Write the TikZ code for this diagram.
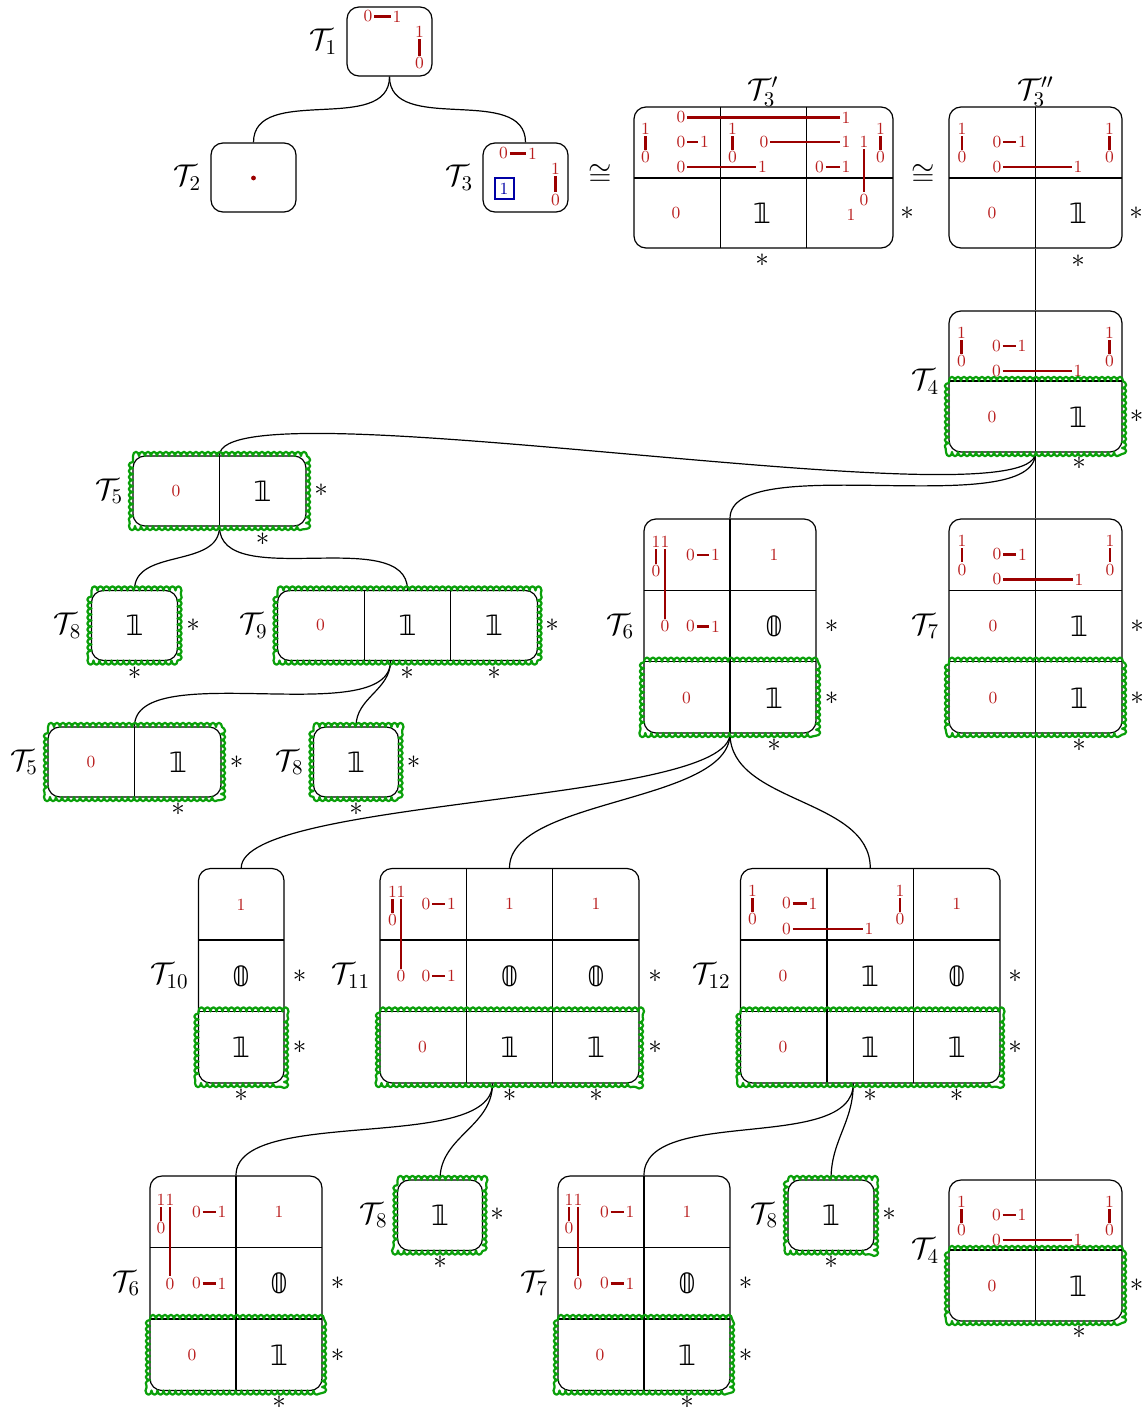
\IfFileExists{fix-cm.sty}{\RequirePackage{fix-cm}}{}
\documentclass[tikz,border=0pt]{standalone}
\usepackage{fontspec}
\newif\ifhavebbold
\IfFileExists{bbold.sty}{\havebboldtrue}{\havebboldfalse}
\ifhavebbold\usepackage{bbold}\fi
\newfontfamily\dsymfont{DejaVu Sans}
\newcommand\dbl[1]{\ifhavebbold$\mathbb{#1}$\else{\dsymfont\ifnum#1=0 \char"1D7D8\else\char"1D7D9\fi}\fi}
\usetikzlibrary{fit,calc,decorations.pathmorphing}
\definecolor{rdtxt}{RGB}{185,30,30}
\definecolor{rdline}{RGB}{155,0,0}
\definecolor{grn}{RGB}{10,160,10}
\definecolor{blu}{RGB}{0,0,165}
\newcounter{nn}
\newcommand\rdN[3]{\stepcounter{nn}\node[rd] (r\arabic{nn}) at (#1,#2) {#3};}
\newcommand\rdH[3]{\stepcounter{nn}\node[rd] (r\arabic{nn}a) at (#1,#3) {0};\node[rd] (r\arabic{nn}b) at (#2,#3) {1};\draw[redge] (r\arabic{nn}a) -- (r\arabic{nn}b);}
\newcommand\rdV[3]{\stepcounter{nn}\node[rd] (r\arabic{nn}a) at (#1,#2) {1};\node[rd] (r\arabic{nn}b) at (#1,#3) {0};\draw[redge] (r\arabic{nn}a) -- (r\arabic{nn}b);}
\newcommand\bbN[3]{\stepcounter{nn}\node[bb] (b\arabic{nn}) at (#1,#2) {\dbl{#3}};}
\newcommand\astN[2]{\stepcounter{nn}\node[ast] (s\arabic{nn}) at (#1,#2) {$*$};}
\newcommand\grnB[4]{\draw[gbump] (#1,#2) -- (#3,#2) -- (#3,#4) -- (#1,#4) -- cycle;}
\tikzset{
 box/.style={draw, line width=0.6pt, rounded corners=6pt, inner sep=0pt},
 cell/.style={line width=0.6pt},
 conn/.style={line width=0.6pt},
 rd/.style={text=rdtxt, font=\fontsize{8.5}{9}\selectfont, inner sep=0.7pt},
 redge/.style={draw=rdline, line width=1.1pt},
 bb/.style={font=\fontsize{14}{15}\selectfont, inner sep=0pt},
 ast/.style={font=\fontsize{13.5}{14}\selectfont, inner sep=0pt},
 tlab/.style={font=\fontsize{15}{16}\selectfont, inner sep=0pt, anchor=east, xshift=-4.5pt},
 tlabtop/.style={font=\fontsize{15}{16}\selectfont, inner sep=0pt, anchor=base},
 gbump/.style={draw=grn, line width=1.1pt, line join=round, decorate, decoration={bumps, segment length=6pt, amplitude=2.1pt}},
}
\begin{document}
\begin{tikzpicture}[x=0.5pt,y=-0.5pt]
\useasboundingbox (0,0) rectangle (1146,1408);
% boxes
\node[box, fit={(347,7) (432,76)}] (t1) {};
\node[box, fit={(211,143) (296,212)}] (t2) {};
\node[box, fit={(483,143) (568,212)}] (t3) {};
\node[box, fit={(634,107) (893,248)}] (t3p) {};
\node[box, fit={(949,107) (1122,248)}] (t3pp) {};
\node[box, fit={(949,311) (1122,452)}] (t4) {};
\node[box, fit={(133,456) (306,526)}] (t5) {};
\node[box, fit={(91.5,590.5) (177.5,660.5)}] (t8) {};
\node[box, fit={(277.5,590.5) (537.5,660.5)}] (t9) {};
\node[box, fit={(48,727) (221,797)}] (t5b) {};
\node[box, fit={(313.5,727) (398.5,797)}] (t8b) {};
\node[box, fit={(644,519) (816,733)}] (t6) {};
\node[box, fit={(949,519) (1122,733)}] (t7) {};
\node[box, fit={(198.5,868.5) (284,1083)}] (t10) {};
\node[box, fit={(380,868.5) (639,1083)}] (t11) {};
\node[box, fit={(740.5,868.5) (1000,1083)}] (t12) {};
\node[box, fit={(150,1176) (322,1390.5)}] (t6c) {};
\node[box, fit={(397.5,1180) (482.5,1250.5)}] (t8c) {};
\node[box, fit={(558,1176) (730,1390.5)}] (t7c) {};
\node[box, fit={(788,1180) (874,1250.5)}] (t8d) {};
\node[box, fit={(949,1180) (1122,1321)}] (t4c) {};
% labels
\node[tlab] (lt1) at (t1.west) {$\mathcal{T}_1$};
\node[tlab] (lt2) at (t2.west) {$\mathcal{T}_2$};
\node[tlab] (lt3) at (t3.west) {$\mathcal{T}_3$};
\node[tlabtop] (lt3p) at (763,99) {$\mathcal{T}_3'$};
\node[tlabtop] (lt3pp) at (1035.5,99) {$\mathcal{T}_3''$};
\node[tlab] (lt4) at (t4.west) {$\mathcal{T}_4$};
\node[tlab] (lt5) at (t5.west) {$\mathcal{T}_5$};
\node[tlab] (lt8) at (t8.west) {$\mathcal{T}_8$};
\node[tlab] (lt9) at (t9.west) {$\mathcal{T}_9$};
\node[tlab] (lt5b) at (t5b.west) {$\mathcal{T}_5$};
\node[tlab] (lt8b) at (t8b.west) {$\mathcal{T}_8$};
\node[tlab] (lt6) at (t6.west) {$\mathcal{T}_6$};
\node[tlab] (lt7) at (t7.west) {$\mathcal{T}_7$};
\node[tlab] (lt10) at (t10.west) {$\mathcal{T}_{10}$};
\node[tlab] (lt11) at (t11.west) {$\mathcal{T}_{11}$};
\node[tlab] (lt12) at (t12.west) {$\mathcal{T}_{12}$};
\node[tlab] (lt6c) at (t6c.west) {$\mathcal{T}_6$};
\node[tlab] (lt8c) at (t8c.west) {$\mathcal{T}_8$};
\node[tlab] (lt7c) at (t7c.west) {$\mathcal{T}_7$};
\node[tlab] (lt8d) at (t8d.west) {$\mathcal{T}_8$};
\node[tlab] (lt4c) at (t4c.west) {$\mathcal{T}_4$};
\node[font=\fontsize{15}{16}\selectfont, inner sep=0pt] (cong1) at (600,175) {$\cong$};
\node[font=\fontsize{15}{16}\selectfont, inner sep=0pt] (cong2) at (923,175) {$\cong$};
% cell dividers
\draw[cell] (720.3,107) -- (720.3,248) (806.7,107) -- (806.7,248) (634,178) -- (893,178);
\draw[cell] (1035.5,107) -- (1035.5,248) (949,178) -- (1122,178);
\draw[cell] (1035.5,311) -- (1035.5,452) (949,381) -- (1122,381);
\draw[cell] (219.5,456) -- (219.5,526);
\draw[cell] (364.2,590.5) -- (364.2,660.5) (450.8,590.5) -- (450.8,660.5);
\draw[cell] (134.5,727) -- (134.5,797);
\draw[cell] (730,519) -- (730,733) (644,590.3) -- (816,590.3) (644,661.7) -- (816,661.7);
\draw[cell] (1035.5,519) -- (1035.5,733) (949,590.3) -- (1122,590.3) (949,661.7) -- (1122,661.7);
\draw[cell] (198.5,940) -- (284,940) (198.5,1011.5) -- (284,1011.5);
\draw[cell] (466.3,868.5) -- (466.3,1083) (552.7,868.5) -- (552.7,1083) (380,940) -- (639,940) (380,1011.5) -- (639,1011.5);
\draw[cell] (827,868.5) -- (827,1083) (913.5,868.5) -- (913.5,1083) (740.5,940) -- (1000,940) (740.5,1011.5) -- (1000,1011.5);
\draw[cell] (236,1176) -- (236,1390.5) (150,1247.5) -- (322,1247.5) (150,1319) -- (322,1319);
\draw[cell] (644,1176) -- (644,1390.5) (558,1247.5) -- (730,1247.5) (558,1319) -- (730,1319);
\draw[cell] (1035.5,1180) -- (1035.5,1321) (949,1250) -- (1122,1250);
% connectors
\draw[conn] (t1.south) .. controls +(0,59) and +(0,-59) .. (t2.north);
\draw[conn] (t1.south) .. controls +(0,59) and +(0,-59) .. (t3.north);
\draw[conn] (t3pp.south) -- (t4.north);
\draw[conn] (t4.south) .. controls +(0,75) and +(0,-75) .. (t5.north);
\draw[conn] (t4.south) .. controls +(0,70) and +(0,-70) .. (t6.north);
\draw[conn] (t4.south) -- (t7.north);
\draw[conn] (t5.south) .. controls +(0,42) and +(0,-42) .. (t8.north);
\draw[conn] (t5.south) .. controls +(0,66) and +(0,-66) .. (t9.north);
\coordinate (t9o) at ($(t9.south)+(-17,0)$);
\draw[conn] (t9o) .. controls +(0,70) and +(0,-70) .. (t5b.north);
\draw[conn] (t9o) .. controls +(0,29) and +(0,-29) .. (t8b.north);
\draw[conn] (t6.south) .. controls +(0,70) and +(0,-70) .. (t10.north);
\draw[conn] (t6.south) .. controls +(0,70) and +(0,-70) .. (t11.north);
\draw[conn] (t6.south) .. controls +(0,70) and +(0,-70) .. (t12.north);
\draw[conn] (t7.south) -- (t4c.north);
\coordinate (t11o) at ($(t11.south)+(-17,0)$);
\draw[conn] (t11o) .. controls +(0,70) and +(0,-70) .. (t6c.north);
\draw[conn] (t11o) .. controls +(0,43) and +(0,-43) .. (t8c.north);
\coordinate (t12o) at ($(t12.south)+(-17,0)$);
\draw[conn] (t12o) .. controls +(0,70) and +(0,-70) .. (t7c.north);
\draw[conn] (t12o) .. controls +(0,39) and +(0,-39) .. (t8d.north);
% T1
\rdH{368}{397}{16.5} \rdV{419.5}{31.5}{63.5}
% T2
\node[circle, fill=rdline, inner sep=0pt, minimum size=2.4pt] (t2dot) at (253.5,178) {};
% T3
\rdH{503.5}{532.5}{153.5} \rdV{555.5}{168.5}{200}
\node[draw=blu, line width=1pt, text=blu, font=\fontsize{8.5}{9}\selectfont, minimum width=9.5pt, minimum height=10.5pt, inner sep=0pt] (t3sq) at (504,188.5) {1};
% T3'
\rdH{681}{846}{117.5}
\rdV{645.5}{129}{157.5}
\rdH{681}{704.5}{141.7}
\rdH{681}{762.5}{167}
\rdV{732.5}{129}{157.5}
\rdH{764}{846}{141.7}
\rdV{864}{141.7}{200}
\rdV{880.5}{129}{157.5}
\rdH{819.5}{846}{167}
\rdN{676}{213}{0} \bbN{762}{213}{1} \rdN{851}{215}{1}
\astN{907}{213} \astN{762}{260}
% T3''
\rdV{962}{129}{157.5} \rdH{997}{1022.5}{141.7} \rdH{997}{1078}{167} \rdV{1109.5}{129}{157.5}
\rdN{992}{213}{0} \bbN{1078}{213}{1}
\astN{1136}{213} \astN{1078}{261}
% T4
\rdV{961.5}{333}{361.5} \rdH{996.5}{1022}{346} \rdH{996.5}{1078}{371} \rdV{1109.5}{333}{361.5}
\rdN{992}{417}{0} \bbN{1078}{417}{1}
\astN{1136.5}{416.5} \astN{1079}{463}
% T5
\rdN{176}{491}{0} \bbN{262.5}{491}{1}
\astN{321}{490} \astN{262.5}{539}
% T8
\bbN{134.5}{625.5}{1} \astN{193}{625} \astN{134.5}{673}
% T9
\rdN{320.5}{625.5}{0} \bbN{407.5}{625.5}{1} \bbN{494}{625.5}{1}
\astN{552}{625} \astN{407}{673} \astN{494}{673}
% T5b
\rdN{91}{762}{0} \bbN{178}{762}{1} \astN{236.5}{762} \astN{178}{809}
% T8b
\bbN{356}{762}{1} \astN{413.5}{762} \astN{356}{809}
% T6
\rdV{656}{541.5}{571.5} \rdV{665}{541.5}{626.5} \rdH{690.5}{715.5}{555} \rdH{690.5}{715.5}{626.5}
\rdN{774}{555}{1} \bbN{774}{626.5}{0}
\rdN{686.5}{698}{0} \bbN{774}{698}{1}
\astN{831.5}{626.5} \astN{831.5}{698} \astN{774}{745}
% T7
\rdV{962}{541}{570} \rdH{997}{1022.5}{554.5} \rdH{997}{1079}{579.5} \rdV{1110}{541}{570}
\rdN{993}{626.5}{0} \bbN{1079}{626.5}{1} \rdN{993}{698}{0} \bbN{1079}{698}{1}
\astN{1137}{626.5} \astN{1137}{698} \astN{1079}{745}
% T10
\rdN{241}{904.5}{1} \bbN{241}{976}{0} \bbN{241}{1047.5}{1}
\astN{299.5}{976} \astN{299.5}{1047} \astN{241}{1095}
% T11
\rdV{392.5}{891.5}{920.5} \rdV{401}{891.5}{976.5} \rdH{426}{451.5}{904.3} \rdH{426}{451.5}{976}
\rdN{509.5}{904.3}{1} \rdN{596}{904.3}{1}
\bbN{509.5}{976}{0} \bbN{596}{976}{0}
\rdN{422.5}{1047.5}{0} \bbN{509.5}{1047.5}{1} \bbN{596}{1047.5}{1}
\astN{655}{976} \astN{655}{1047} \astN{509.5}{1095} \astN{596}{1095}
% T12
\rdV{752.5}{891}{919.5} \rdH{786.5}{813}{903.5} \rdH{786.5}{869}{929} \rdV{900}{891}{919.5}
\rdN{956.7}{904.3}{1}
\rdN{783}{976}{0} \bbN{870}{976}{1} \bbN{956.7}{976}{0}
\rdN{783}{1047.5}{0} \bbN{870}{1047.5}{1} \bbN{956.7}{1047.5}{1}
\astN{1015}{976} \astN{1015}{1047} \astN{870}{1095} \astN{956.7}{1095}
% T6c
\rdV{161}{1199.5}{1228.5} \rdV{170}{1199.5}{1284} \rdH{196.5}{222}{1212} \rdH{196.5}{222}{1283.5}
\rdN{279}{1212}{1} \bbN{279}{1283.5}{0} \rdN{192}{1355}{0} \bbN{279}{1355}{1}
\astN{337.5}{1283.5} \astN{337.5}{1355} \astN{279}{1402}
% T8c
\bbN{440}{1215.5}{1} \astN{497}{1214} \astN{440}{1262}
% T7c
\rdV{569}{1199.5}{1228.5} \rdV{578}{1199.5}{1284} \rdH{604.5}{630}{1212} \rdH{604.5}{630}{1283.5}
\rdN{687}{1212}{1} \bbN{687}{1283.5}{0} \rdN{600}{1355}{0} \bbN{687}{1355}{1}
\astN{745.5}{1283.5} \astN{745.5}{1355} \astN{687}{1402}
% T8d
\bbN{831}{1215.5}{1} \astN{889}{1214} \astN{831}{1262}
% T4c
\rdV{961.5}{1202}{1230.5} \rdH{996.5}{1022}{1215} \rdH{996.5}{1078}{1240} \rdV{1109.5}{1202}{1230.5}
\rdN{992}{1286}{0} \bbN{1078}{1286}{1}
\astN{1136.5}{1285.5} \astN{1079}{1332}
% green scalloped frames
\grnB{949}{381}{1122}{452}
\grnB{133}{456}{306}{526}
\grnB{91.5}{590.5}{177.5}{660.5}
\grnB{277.5}{590.5}{537.5}{660.5}
\grnB{48}{727}{221}{797}
\grnB{313.5}{727}{398.5}{797}
\grnB{644}{661.7}{816}{733}
\grnB{949}{661.7}{1122}{733}
\grnB{198.5}{1011.5}{284}{1083}
\grnB{380}{1011.5}{639}{1083}
\grnB{740.5}{1011.5}{1000}{1083}
\grnB{150}{1319}{322}{1390.5}
\grnB{397.5}{1180}{482.5}{1250.5}
\grnB{558}{1319}{730}{1390.5}
\grnB{788}{1180}{874}{1250.5}
\grnB{949}{1250}{1122}{1321}
\end{tikzpicture}
\end{document}
